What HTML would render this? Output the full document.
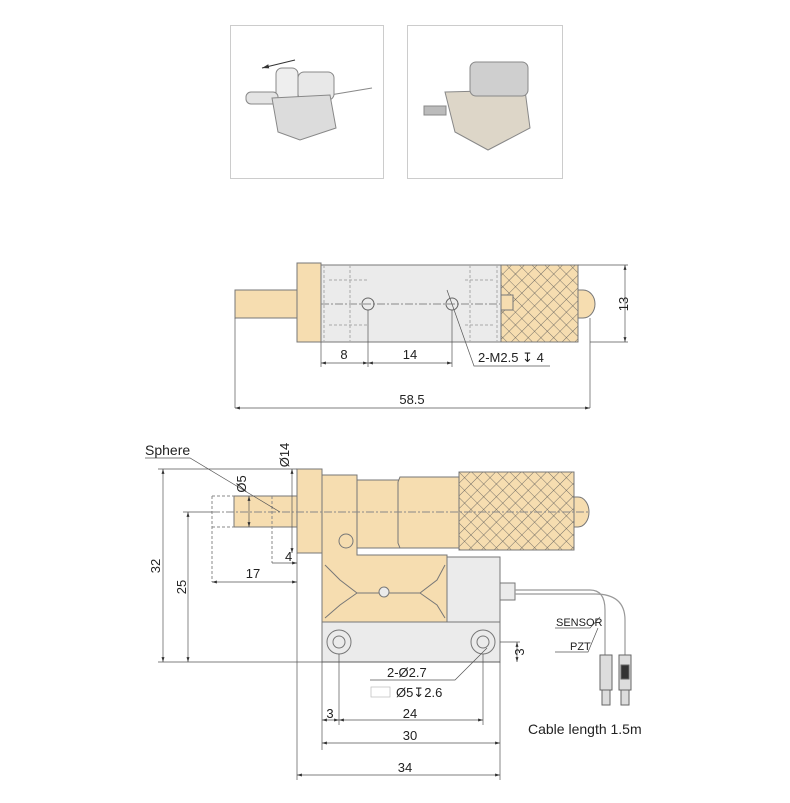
<!DOCTYPE html>
<html><head><meta charset="utf-8"><style>
body{margin:0;background:#fff}
svg{display:block;font-family:"Liberation Sans","DejaVu Sans",sans-serif}
</style></head><body>
<svg width="790" height="803" viewBox="0 0 790 803" xmlns="http://www.w3.org/2000/svg">
<defs>
<pattern id="kn" width="9" height="9" patternUnits="userSpaceOnUse" patternTransform="rotate(45)">
<rect width="9" height="9" fill="#f6ddb0"/>
<path d="M0 0H9M0 0V9" stroke="#555" stroke-width="0.8"/>
</pattern>
<marker id="a" viewBox="0 0 10 10" refX="10" refY="5" markerWidth="7" markerHeight="7" orient="auto-start-reverse"><path d="M0 2L10 5L0 8z" fill="#333"/></marker>
</defs>
<!-- photo boxes -->
<rect x="230.5" y="25.5" width="153" height="153" fill="#fff" stroke="#ccc"/>
<rect x="407.5" y="25.5" width="155" height="153" fill="#fff" stroke="#ccc"/>
<g stroke="#888" stroke-width="1" fill="#e4e4e4">
<line x1="330" y1="95" x2="372" y2="88"/>
<rect x="276" y="68" width="22" height="40" rx="6" fill="#eee"/>
<rect x="298" y="72" width="36" height="28" rx="6" fill="#e8e8e8"/>
<rect x="246" y="92" width="32" height="12" rx="5"/>
<path d="M272 98L330 95L336 128L300 140L278 132z" fill="#dcdcdc"/>
<rect x="424" y="106" width="22" height="9" fill="#bbb"/>
<path d="M445 92L525 90L530 128L488 150L455 132z" fill="#ddd6c8"/>
<rect x="470" y="62" width="58" height="34" rx="6" fill="#cfcfcf"/>
</g>
<path d="M295 60L262 68" stroke="#333" marker-end="url(#a)"/>
<!-- TOP VIEW -->
<g stroke="#777" stroke-width="1">
<rect x="235" y="290" width="62" height="28" fill="#f6ddb0"/>
<rect x="297" y="263" width="24" height="79" fill="#f6ddb0"/>
<rect x="321" y="265" width="180" height="77" fill="#ebebeb"/>
<rect x="501" y="265" width="77" height="77" fill="url(#kn)"/>
<path d="M578 290h5a12 14 0 0 1 0 28h-5z" fill="#f6ddb0"/>
<rect x="501" y="295" width="12" height="15" fill="#f6ddb0"/>
</g>
<g stroke="#aaa" stroke-dasharray="3,2" fill="none">
<path d="M324 265v77M350 265v77M329 280h40M329 325h40M470 265v77M497 265v77M465 280h30M465 325h30"/>
</g>
<line x1="321" y1="304" x2="500" y2="304" stroke="#888" stroke-dasharray="8,2,2,2"/>
<circle cx="368" cy="304" r="6" fill="none" stroke="#666"/>
<circle cx="452" cy="304" r="6" fill="none" stroke="#666"/>
<g stroke="#555" stroke-width="0.7" fill="none">
<path d="M578 265H628M590 342H628M321 342v25M368 310v57M452 310v57M235 318v90M590 318v90"/>
<path d="M447 290L474 366H550"/>
<line x1="625" y1="265" x2="625" y2="342" marker-start="url(#a)" marker-end="url(#a)"/>
<line x1="321" y1="363" x2="368" y2="363" marker-start="url(#a)" marker-end="url(#a)"/>
<line x1="368" y1="363" x2="452" y2="363" marker-start="url(#a)" marker-end="url(#a)"/>
<line x1="235" y1="408" x2="590" y2="408" marker-start="url(#a)" marker-end="url(#a)"/>
</g>
<g font-size="13" fill="#222">
<text x="344" y="359" text-anchor="middle">8</text>
<text x="410" y="359" text-anchor="middle">14</text>
<text x="478" y="362">2-M2.5 ↧ 4</text>
<text x="412" y="404" text-anchor="middle">58.5</text>
<text transform="translate(628,304) rotate(-90)" text-anchor="middle">13</text>
</g>
<!-- FRONT VIEW -->
<g stroke="#777" stroke-width="1">
<rect x="234" y="496" width="63" height="31" fill="#f6ddb0"/>
<rect x="322" y="557" width="178" height="65" fill="#ebebeb"/>
<path d="M322 475H357V555H447V622H322z" fill="#f6ddb0"/>
<rect x="357" y="480" width="45" height="68" fill="#f6ddb0"/>
<path d="M400 477H459V548H400L398 543V482z" fill="#f6ddb0"/>
<rect x="297" y="469" width="25" height="84" fill="#f6ddb0"/>
<rect x="459" y="472" width="115" height="78" fill="url(#kn)"/>
<path d="M574 497h4a11 15 0 0 1 0 30h-4z" fill="#f6ddb0"/>
<rect x="322" y="622" width="178" height="40" fill="#ebebeb"/>
<rect x="500" y="583" width="15" height="17" fill="#ebebeb"/>
<circle cx="346" cy="541" r="7" fill="none"/>
<path d="M325 565L340 580L357 593H420L437 580L445 565" fill="none"/>
<path d="M325 618L340 605L357 593M420 593L437 605L445 618" fill="none"/>
<circle cx="384" cy="592" r="5" fill="#ebebeb"/>
<circle cx="339" cy="642" r="12" fill="none"/><circle cx="339" cy="642" r="6" fill="none"/>
<circle cx="483" cy="642" r="12" fill="none"/><circle cx="483" cy="642" r="6" fill="none"/>
</g>
<g stroke="#999" fill="none" stroke-width="1.2">
<path d="M515 590H590Q605 590 605 610V655"/>
<path d="M515 594H595Q625 594 625 620V655"/>
</g>
<g stroke="#666" fill="#ddd">
<rect x="600" y="655" width="12" height="35"/><rect x="602" y="690" width="8" height="15"/>
<rect x="619" y="655" width="12" height="35"/><rect x="621" y="690" width="8" height="15"/>
<rect x="621" y="665" width="8" height="14" fill="#333"/>
</g>
<line x1="212" y1="512" x2="590" y2="512" stroke="#888" stroke-dasharray="8,2,2,2"/>
<g stroke="#888" stroke-dasharray="3,2" fill="none">
<path d="M212 496H234M212 527H234M212 496V582M272 496V563"/>
</g>
<g stroke="#555" stroke-width="0.7" fill="none">
<path d="M158 469H297M183 512H212M158 662H500M297 553V780M322 662V750M339 654V725M483 654V725M500 662V780M500 642H520"/>
<path d="M145 458H190L280 512"/>
<path d="M487 648L455 680H370"/>
<path d="M600 617L590 628H555M598 628L588 652H555"/>
<line x1="163" y1="469" x2="163" y2="662" marker-start="url(#a)" marker-end="url(#a)"/>
<line x1="188" y1="512" x2="188" y2="662" marker-start="url(#a)" marker-end="url(#a)"/>
<line x1="292" y1="469" x2="292" y2="553" marker-start="url(#a)" marker-end="url(#a)"/>
<line x1="249" y1="496" x2="249" y2="527" marker-start="url(#a)" marker-end="url(#a)"/>
<line x1="272" y1="563" x2="297" y2="563" marker-end="url(#a)"/>
<line x1="212" y1="582" x2="297" y2="582" marker-start="url(#a)" marker-end="url(#a)"/>
<line x1="517" y1="642" x2="517" y2="662" marker-start="url(#a)" marker-end="url(#a)"/>
<line x1="322" y1="720" x2="339" y2="720" marker-start="url(#a)" marker-end="url(#a)"/>
<line x1="339" y1="720" x2="483" y2="720" marker-start="url(#a)" marker-end="url(#a)"/>
<line x1="322" y1="743" x2="500" y2="743" marker-start="url(#a)" marker-end="url(#a)"/>
<line x1="297" y1="775" x2="500" y2="775" marker-start="url(#a)" marker-end="url(#a)"/>
<rect x="371" y="687" width="19" height="10" stroke="#bbb"/>
</g>
<g font-size="13" fill="#222">
<text x="145" y="455" font-size="14">Sphere</text>
<text transform="translate(289,455) rotate(-90)" text-anchor="middle">Ø14</text>
<text transform="translate(246,484) rotate(-90)" text-anchor="middle">Ø5</text>
<text transform="translate(160,566) rotate(-90)" text-anchor="middle">32</text>
<text transform="translate(186,587) rotate(-90)" text-anchor="middle">25</text>
<text transform="translate(524,652) rotate(-90)" text-anchor="middle">3</text>
<text x="285" y="561">4</text>
<text x="253" y="578" text-anchor="middle">17</text>
<text x="387" y="677">2-Ø2.7</text>
<text x="396" y="697">Ø5↧2.6</text>
<text x="330" y="718" text-anchor="middle">3</text>
<text x="410" y="718" text-anchor="middle">24</text>
<text x="410" y="740" text-anchor="middle">30</text>
<text x="405" y="772" text-anchor="middle">34</text>
<text x="528" y="734" font-size="14">Cable length 1.5m</text>
<text x="556" y="626" font-size="11">SENSOR</text>
<text x="570" y="650" font-size="11">PZT</text>
</g>
</svg>
</body></html>
